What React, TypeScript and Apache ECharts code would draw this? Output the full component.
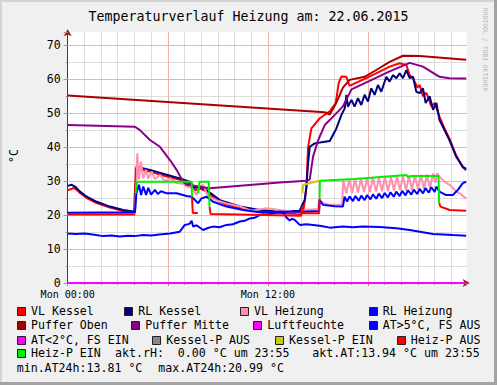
import React, { useEffect, useRef } from "react";
import * as echarts from "echarts";

const W = 497;
const H = 385;

const titleText = "Temperaturverlauf Heizung am: 22.06.2015";
const unitLabel = "°C";
const watermark = "RRDTOOL / TOBI OETIKER";
const xLabels: Record<number, string> = { 0: "Mon 00:00", 12: "Mon 12:00" };
const yLabelValues = [0, 10, 20, 30, 40, 50, 60, 70];
const xMax = 23.92;
const yMax = 73.8;

// series data: [hour, °C]
const vlKessel = [
  [0, 27.4], [0.2, 27.6], [0.34, 28.0], [0.5, 27.6], [0.74, 26.5], [1.14, 25.0], [1.74, 23.5], [2.53, 22.2], [3.33, 21.2], [3.97, 20.7],
  [4.09, 33.6], [4.93, 32.8], [5.83, 31.5], [6.72, 30.4], [7.32, 29.2], [7.62, 27.3], [7.92, 27.8], [8.32, 27.0], [8.82, 24.8], [9.42, 23.2],
  [10.32, 22.0], [11.51, 21.0], [12.71, 20.6], [13.91, 20.3], [14.11, 20.6], [14.31, 28.0], [14.41, 40.0], [14.61, 45.5], [15.11, 48.5],
  [15.71, 50.5], [16.07, 53.0], [16.25, 59.0], [16.41, 60.8], [16.71, 60.7], [16.9, 58.0], [17.3, 59.0], [17.9, 60.3], [18.7, 62.2],
  [19.3, 63.7], [19.9, 64.7], [20.3, 64.2], [20.5, 61.2], [20.7, 60.3], [20.97, 57.5], [21.1, 58.3], [21.3, 55.0], [21.5, 56.0],
  [21.8, 52.0], [22.0, 53.0], [22.29, 49.0], [22.59, 45.5], [22.89, 42.5], [23.29, 37.5], [23.69, 34.0], [23.89, 33.2],
];
const rlKessel = [
  [0, 28.6], [0.24, 28.9], [0.44, 28.4], [0.74, 26.9], [1.14, 25.4], [1.74, 23.9], [2.53, 22.5], [3.33, 21.5], [4.03, 21.0],
  [4.12, 34.2], [4.93, 33.3], [5.83, 32.0], [6.72, 30.8], [7.32, 29.8], [7.62, 28.0], [7.92, 28.3], [8.32, 27.4], [9.12, 24.4],
  [10.32, 22.5], [11.51, 21.5], [12.71, 21.0], [13.91, 21.3], [14.11, 23.5], [14.21, 24.4], [14.31, 28.4], [14.41, 35.2], [14.51, 40.1],
  [14.81, 41.1], [15.41, 41.6], [15.71, 41.8], [16.11, 45.5], [16.41, 49.5], [16.61, 51.4], [16.71, 55.4], [16.8, 51.9], [17.01, 53.9],
  [17.2, 51.9], [17.4, 54.4], [17.6, 52.4], [17.8, 55.4], [18.0, 53.4], [18.2, 57.3], [18.4, 55.4], [18.6, 58.3], [18.8, 56.3],
  [19.1, 60.7], [19.3, 59.3], [19.5, 61.2], [19.7, 60.3], [19.9, 61.7], [20.1, 60.3], [20.3, 62.7], [20.5, 60.3], [20.7, 60.7],
  [20.9, 56.3], [21.1, 55.9], [21.3, 57.3], [21.46, 53.0], [21.7, 55.0], [21.9, 51.0], [22.1, 53.0], [22.29, 48.0], [22.59, 45.0],
  [22.89, 42.0], [23.29, 37.2], [23.69, 34.2], [23.89, 33.6],
];
const vlHeizung = [
  [0, 20.3], [4.03, 20.4], [4.12, 30.0], [4.17, 38.2], [4.27, 30.5], [4.39, 35.7], [4.53, 30.8], [4.69, 33.3], [4.83, 30.8], [5.03, 32.8],
  [5.23, 30.6], [5.53, 31.8], [5.83, 30.0], [6.13, 30.8], [6.53, 29.4], [6.92, 29.2], [7.13, 28.4], [7.43, 28.0], [7.72, 25.9], [7.92, 28.5],
  [8.12, 28.9], [8.42, 25.4], [8.92, 24.4], [9.52, 23.4], [10.32, 22.5], [11.02, 21.3], [11.92, 22.0], [12.71, 21.5], [13.91, 20.7],
  [14.21, 21.5], [15.01, 21.8], [15.07, 24.6], [15.31, 23.5], [15.71, 23.0], [16.45, 23.0], [16.52, 30.3], [16.7, 26.4], [16.88, 30.4],
  [17.05, 26.5], [17.23, 30.6], [17.4, 26.6], [17.58, 30.7], [17.76, 26.7], [17.94, 30.8], [18.12, 26.8], [18.3, 31.0], [18.48, 26.9],
  [18.66, 31.0], [18.84, 27.0], [19.02, 31.2], [19.2, 27.0], [19.38, 31.3], [19.56, 27.2], [19.74, 31.4], [19.92, 27.3], [20.1, 31.5],
  [20.28, 27.3], [20.46, 31.6], [20.64, 27.4], [20.82, 31.8], [21.0, 27.5], [21.18, 31.9], [21.36, 27.6], [21.54, 32.0], [21.72, 27.8],
  [21.9, 32.2], [22.05, 29.5], [22.15, 32.3], [22.29, 31.3], [22.59, 29.8], [22.89, 28.9], [23.29, 27.0], [23.49, 26.4], [23.89, 24.8],
];
const rlHeizung = [
  [0, 20.7], [4.03, 20.8], [4.12, 26.4], [4.27, 28.9], [4.4, 25.9], [4.53, 28.4], [4.7, 25.9], [4.83, 28.0], [5.0, 26.0], [5.23, 27.4],
  [5.4, 26.2], [5.6, 27.0], [5.93, 26.4], [6.53, 26.4], [7.13, 25.6], [7.43, 25.4], [7.82, 23.5], [8.02, 24.9], [8.32, 25.4], [8.72, 23.9],
  [9.52, 22.5], [10.51, 21.5], [11.71, 20.7], [12.71, 21.0], [14.11, 21.0], [15.07, 21.2], [15.1, 24.4], [15.31, 23.0], [16.0, 22.6],
  [16.5, 22.5], [16.6, 25.4], [16.75, 24.0], [16.9, 25.5], [17.1, 24.1], [17.25, 25.6], [17.45, 24.2], [17.6, 25.7], [17.8, 24.4],
  [17.95, 25.9], [18.15, 24.6], [18.3, 26.1], [18.5, 24.8], [18.65, 26.3], [18.85, 25.0], [19.0, 26.5], [19.2, 25.2], [19.35, 26.7],
  [19.55, 25.4], [19.7, 26.9], [19.9, 25.6], [20.05, 27.1], [20.25, 25.8], [20.4, 27.3], [20.6, 26.0], [20.75, 27.5], [20.95, 26.2],
  [21.1, 27.7], [21.3, 26.4], [21.45, 27.9], [21.65, 26.6], [21.8, 28.2], [22.0, 26.8], [22.1, 28.4], [22.29, 26.9], [22.69, 25.9],
  [23.09, 25.9], [23.39, 27.4], [23.69, 29.4], [23.89, 29.8],
];
const pufferOben = [
  [0, 55.2], [15.41, 50.3], [15.71, 49.6], [16.1, 53.0], [16.5, 57.5], [16.9, 59.8], [17.8, 60.7], [18.5, 62.7], [19.3, 65.1],
  [20.1, 66.9], [21.1, 66.8], [23.89, 65.7],
];
const pufferMitte = [
  [0, 46.5], [4.03, 46.0], [4.33, 45.0], [4.93, 42.1], [5.53, 40.1], [6.13, 36.2], [6.53, 33.3], [6.92, 29.8], [7.13, 28.9], [8.52, 27.9],
  [12.71, 29.6], [14.31, 30.1], [14.51, 30.5], [14.71, 37.2], [15.01, 42.0], [15.41, 46.5], [16.01, 49.5], [16.5, 52.0], [17.01, 57.0],
  [18.1, 59.5], [19.3, 62.3], [20.5, 64.8], [21.3, 63.7], [22.29, 60.7], [22.9, 60.3], [23.89, 60.2],
];
const luftfeuchte = [[0, 0], [23.89, 0]];
const atWarm = [
  [0, 14.6], [0.5, 14.4], [1.0, 14.6], [1.5, 14.3], [2.13, 13.8], [2.6, 14.0], [3.13, 13.7], [3.6, 13.9], [4.0, 13.8], [4.53, 14.1],
  [5.0, 14.0], [5.5, 14.3], [6.13, 14.6], [6.72, 15.1], [7.02, 17.1], [7.3, 17.4], [7.43, 18.3], [7.52, 16.6], [7.72, 17.0], [7.95, 16.2],
  [8.12, 15.6], [8.4, 16.2], [8.72, 16.6], [9.1, 16.4], [9.52, 17.1], [9.9, 17.3], [10.32, 18.1], [10.6, 18.3], [10.92, 19.0],
  [11.2, 19.2], [11.51, 20.0], [11.9, 20.1], [12.31, 20.5], [12.71, 20.99], [13.0, 20.3], [13.11, 19.3], [13.31, 18.4], [13.45, 18.9],
  [13.6, 18.6], [13.91, 17.1], [14.3, 17.3], [14.71, 17.1], [15.2, 16.8], [15.71, 16.3], [16.5, 16.6], [17.1, 16.4], [17.7, 16.6],
  [18.7, 16.5], [19.7, 16.1], [20.5, 15.6], [21.2, 15.0], [21.9, 14.4], [22.5, 14.3], [23.09, 14.1], [23.89, 13.94],
];
const atCold: number[][] = [];
const kesselPAus: number[][] = [];
const kesselPEin = [[14.07, 26.4], [14.12, 28.9], [15.1, 30.1]];
const heizPAusSegments = [
  [[0, 20.2], [4.05, 20.2]],
  [[7.45, 25.4], [7.5, 20.6], [7.8, 20.6]],
  [[8.5, 22.5], [8.57, 20.3], [11.0, 20.1], [14.0, 19.8], [14.05, 22.5], [14.1, 20.5], [15.07, 20.5], [15.1, 24.9]],
  [[22.27, 23.5], [22.35, 22.5], [22.9, 21.5], [23.89, 21.3]],
];
const heizPEinSegments = [
  [[4.07, 26.4], [4.15, 29.8], [7.43, 29.8], [7.45, 25.4]],
  [[7.82, 26.4], [7.9, 29.8], [8.46, 29.8], [8.5, 22.5]],
  [[15.1, 24.9], [15.12, 30.1], [17.2, 30.6], [20.3, 31.8], [20.4, 31.2], [20.6, 31.5], [22.23, 31.5], [22.27, 23.5]],
];

const legendNames = [
  "VL Kessel", "RL Kessel", "VL Heizung", "RL Heizung",
  "Puffer Oben", "Puffer Mitte", "Luftfeuchte", "AT>5°C, FS AUS",
  "AT<2°C, FS EIN", "Kessel-P AUS", "Kessel-P EIN", "Heiz-P AUS",
  "Heiz-P EIN",
];
const legendColors = [
  "#FF0000", "#000080", "#FF8FAF", "#0000FF",
  "#AA0000", "#880088", "#FF00FF", "#0000FF",
  "#FF00FF", "#888888", "#CCCC00", "#FF0000",
  "#00EE00",
];
const statTexts = [
  "akt.rH:  0.00 °C um 23:55",
  "akt.AT:13.94 °C um 23:55",
  "min.AT24h:13.81 °C",
  "max.AT24h:20.99 °C",
];

function joinSegments(segs: number[][][]) {
  const out: any[] = [];
  segs.forEach((s, i) => {
    if (i > 0) out.push([s[0][0] - 0.001, "-"]);
    s.forEach((p) => out.push(p));
  });
  return out;
}

const seriesData = [
  vlKessel, rlKessel, vlHeizung, rlHeizung, pufferOben, pufferMitte, luftfeuchte,
  atWarm, atCold, kesselPAus, kesselPEin, joinSegments(heizPAusSegments), joinSegments(heizPEinSegments),
];

export default function App() {
  const ref = useRef<HTMLDivElement>(null);
  useEffect(() => {
    if (!ref.current) return;
    const chart = echarts.init(ref.current, null, { renderer: "svg", width: W, height: H });
    const mono = '"DejaVu Sans Mono", monospace';
    const axisColor = "#8A1C1C";
    const gridLeft = 67.7;
    const gridRight = 466.7;
    const gridTop = 32.3;
    const gridBottom = 283;

    const legendPos = [
      [31, 0], [138.3, 0], [254, 0], [382.7, 0],
      [31, 1], [145.3, 1], [267.3, 1], [382.7, 1],
      [31, 2], [166.3, 2], [289, 2], [410.7, 2],
      [31, 3],
    ];
    const rowY = [311.3, 325.3, 339.5, 353.3, 367.5];
    const statPos = [[115, 3], [312.3, 3], [16.7, 4], [158.3, 4]];
    const legendFont = `11.6px ${mono}`;

    const graphics: any[] = [
      { type: "rect", shape: { x: 0, y: 0, width: W, height: 2 }, style: { fill: "#D4D4D4" }, silent: true },
      { type: "rect", shape: { x: 0, y: 0, width: 2, height: H }, style: { fill: "#D4D4D4" }, silent: true },
      { type: "rect", shape: { x: W - 3, y: 0, width: 3, height: H }, style: { fill: "#A3A3A3" }, silent: true },
      { type: "rect", shape: { x: 0, y: H - 3, width: W, height: 3 }, style: { fill: "#A3A3A3" }, silent: true },
      {
        type: "text", x: 248.5, y: 16.5,
        style: { text: titleText, font: `13.3px ${mono}`, fill: "#000", textAlign: "center", textVerticalAlign: "middle" },
      },
      {
        type: "text", x: 14, y: 156, rotation: Math.PI / 2,
        style: { text: unitLabel, font: `11.5px ${mono}`, fill: "#000", textAlign: "center", textVerticalAlign: "middle" },
      },
      {
        type: "text", x: 485, y: 8, rotation: -Math.PI / 2,
        style: { text: watermark, font: `6.3px ${mono}`, fill: "#B8B8B8", textAlign: "left", textVerticalAlign: "middle" },
      },
    ];
    legendNames.forEach((name, i) => {
      const [tx, r] = legendPos[i];
      const cy = rowY[r];
      graphics.push({
        type: "rect",
        shape: { x: Math.round(tx - 14) + 0.5, y: Math.round(cy - 4) + 0.5, width: 8, height: 8 },
        style: { fill: legendColors[i], stroke: "#222", lineWidth: 1 },
      });
      graphics.push({
        type: "text", x: tx, y: cy,
        style: { text: name, font: legendFont, fill: "#000", textAlign: "left", textVerticalAlign: "middle" },
      });
    });
    statTexts.forEach((t, i) => {
      const [tx, r] = statPos[i];
      graphics.push({
        type: "text", x: tx, y: rowY[r],
        style: { text: t, font: legendFont, fill: "#000", textAlign: "left", textVerticalAlign: "middle" },
      });
    });

    const option: any = {
      animation: false,
      backgroundColor: "#F0F0F0",
      grid: {
        left: gridLeft, right: W - gridRight, top: gridTop, bottom: H - gridBottom,
        show: true, backgroundColor: "#FFFFFF", borderWidth: 0,
      },
      xAxis: [
        {
          type: "value", position: "bottom", min: 0, max: xMax, interval: 1, z: 0,
          axisLine: { show: true, lineStyle: { color: axisColor, width: 1 }, symbol: ["none", "arrow"], symbolSize: [6, 7], symbolOffset: [0, 3] },
          axisTick: { show: true, length: 2, lineStyle: { color: "#999" } },
          axisLabel: { show: false },
          splitLine: { show: true, showMinLine: false, showMaxLine: false, lineStyle: { color: "#DCDCDC", width: 1 } },
        },
        {
          type: "value", position: "bottom", min: 0, max: xMax, interval: 6, z: 1,
          axisLine: { show: false },
          axisTick: { show: true, length: 3, lineStyle: { color: "#D08080" } },
          axisLabel: {
            show: true, margin: 6, color: "#000", fontFamily: mono, fontSize: 10,
            formatter: (v: number) => xLabels[v] ?? "",
          },
          splitLine: { show: true, showMinLine: false, showMaxLine: false, lineStyle: { color: "#F2B0B0", width: 1 } },
        },
      ],
      yAxis: [
        {
          type: "value", position: "left", min: 0, max: yMax, interval: 5, z: 0,
          axisLine: { show: true, lineStyle: { color: axisColor, width: 1 }, symbol: ["none", "arrow"], symbolSize: [6, 7], symbolOffset: [0, 3] },
          axisTick: { show: true, length: 2, lineStyle: { color: "#999" } },
          axisLabel: { show: false },
          splitLine: { show: true, showMinLine: false, showMaxLine: false, lineStyle: { color: "#DCDCDC", width: 1 } },
        },
        {
          type: "value", position: "left", min: 0, max: yMax, interval: 10, z: 1,
          axisLine: { show: false },
          axisTick: { show: true, length: 4, lineStyle: { color: "#D08080" } },
          axisLabel: {
            show: true, margin: 7, color: "#000", fontFamily: mono, fontSize: 11.5,
            formatter: (v: number) => (yLabelValues.indexOf(v) >= 0 ? String(v) : ""),
          },
          splitLine: { show: true, showMinLine: false, showMaxLine: false, lineStyle: { color: "#F2B0B0", width: 1 } },
        },
      ],
      series: legendNames.map((name, i) => ({
        name,
        type: "line",
        xAxisIndex: 0,
        yAxisIndex: 0,
        data: seriesData[i],
        showSymbol: false,
        symbol: "none",
        clip: false,
        connectNulls: false,
        lineStyle: { color: legendColors[i], width: 2 },
        itemStyle: { color: legendColors[i] },
        z: 2 + i * 0.01,
      })),
      graphic: graphics,
    };
    chart.setOption(option);
    return () => chart.dispose();
  }, []);
  return <div ref={ref} style={{ position: "absolute", left: 0, top: 0, width: W, height: H }} />;
}
